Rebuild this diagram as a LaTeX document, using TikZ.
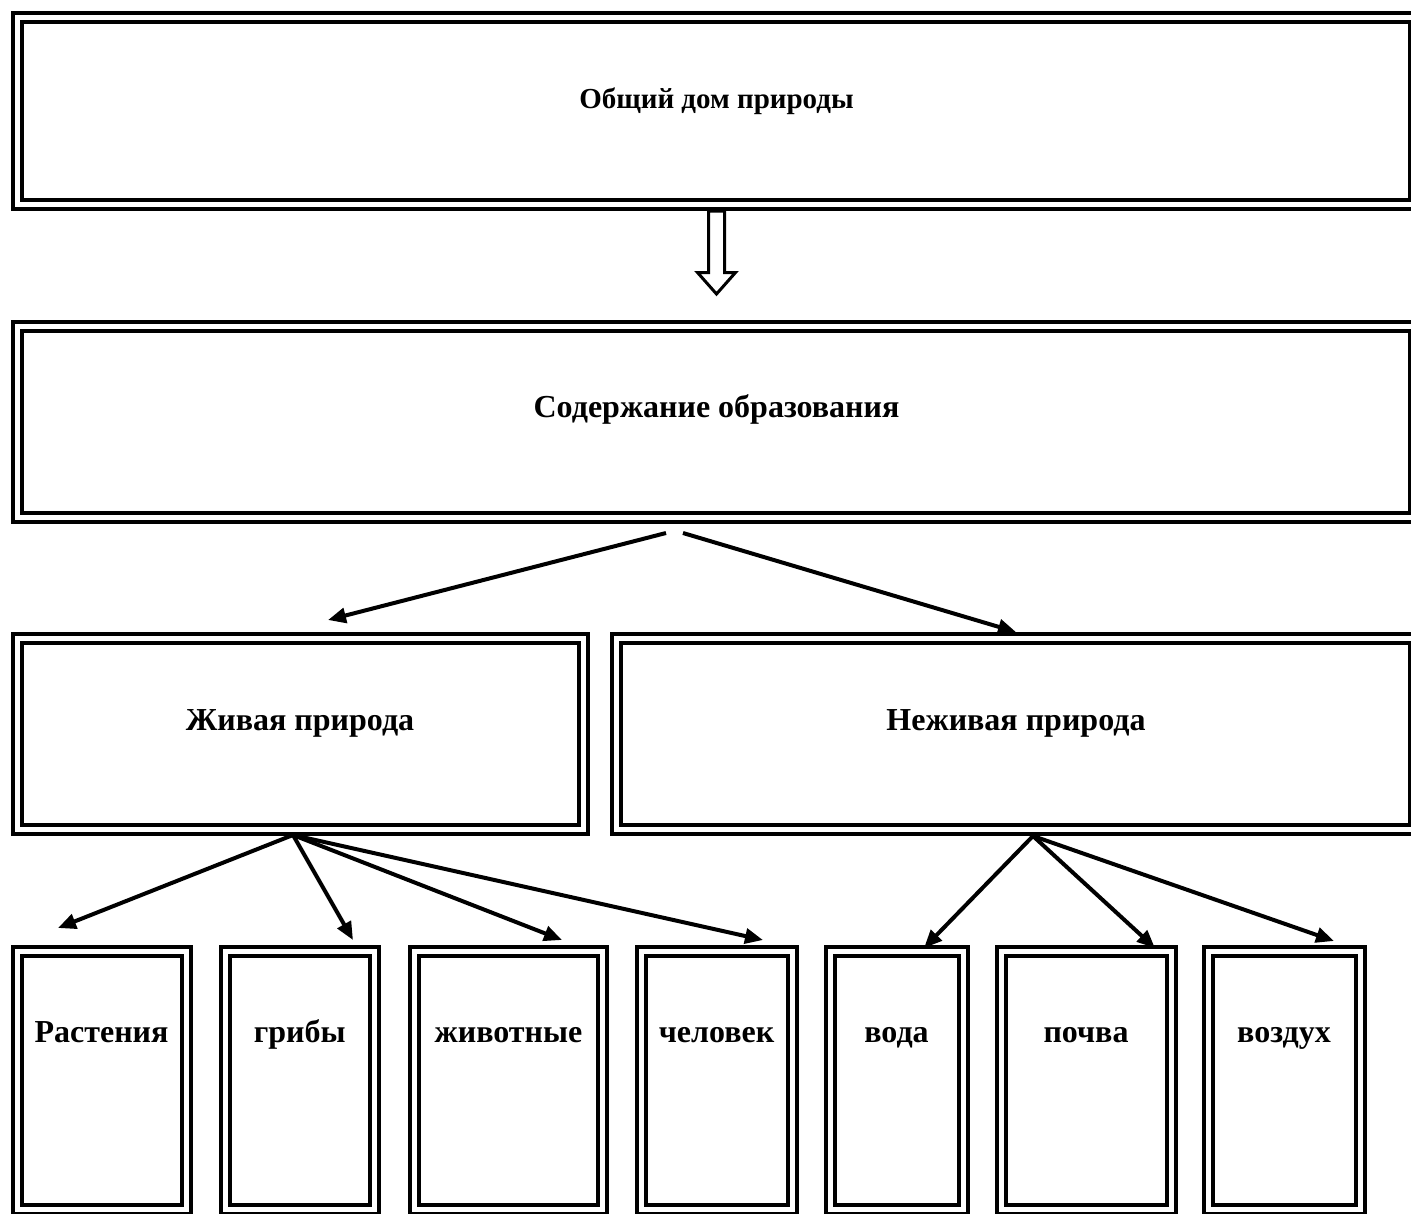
\documentclass[tikz,border=0pt]{standalone}
\usepackage{fontspec}
\setmainfont{Liberation Serif}
\usetikzlibrary{arrows.meta}

\tikzset{
  dblbox/.style={draw, double, line width=4pt, double distance=5pt, inner sep=0pt},
  lbl/.style={font=\bfseries\fontsize{32}{34}\selectfont, inner sep=0pt, anchor=base},
  arr/.style={line width=4pt, -{Triangle[length=18pt,width=15pt]}},
}

\begin{document}
\begin{tikzpicture}[x=1pt,y=-1pt]
	\useasboundingbox (0,0) rectangle (1411,1213);
	\clip (0,0) rectangle (1411,1213);
	\fill[white] (0,0) rectangle (1411,1213);

	% draw the two wide boxes
	\node[dblbox, minimum width=1397pt, minimum height=186.5pt] (dom) at (715.5,110.75) {};
	\node[lbl, font=\bfseries\fontsize{29}{31}\selectfont] (dom-t) at (716.5,108) {Общий дом природы};
	\node[dblbox, minimum width=1397pt, minimum height=191pt] (sod) at (715.5,421.5) {};
	\node[lbl] (sod-t) at (716.5,417) {Содержание образования};

	% draw hollow arrow between them
	\coordinate (dom-out) at (717,211);
	\draw[line width=3pt, fill=white] (dom-out) ++(-8.5,0) -- ++(0,61.5) -- ++(-11,0)
		-- ++(19,21.5) -- ++(19,-21.5) -- ++(-11,0) -- ++(0,-61.5) -- cycle;

	% draw the two middle boxes
	\node[dblbox, minimum width=566pt, minimum height=190.5pt] (zhiv) at (300,733.75) {};
	\node[lbl] (zhiv-t) at (300,730) {Живая природа};
	\node[dblbox, minimum width=798pt, minimum height=190.5pt] (nezhiv) at (1015,733.75) {};
	\node[lbl] (nezhiv-t) at (1016,730) {Неживая природа};

	% draw arrows from middle of second box
	\coordinate (sod-l) at (666,533);
	\coordinate (sod-r) at (683,533);
	\coordinate (zhiv-in) at (328,620);
	\coordinate (nezhiv-in) at (1016,632);
	\draw[arr] (sod-l) -- (zhiv-in);
	\draw[arr] (sod-r) -- (nezhiv-in);

	% draw bottom boxes
	\foreach \nm/\cx/\w/\txt in {rast/101.5/169/Растения, grib/299.75/149.5/грибы,
		zhivot/508.5/188/животные, chel/716.5/151/человек, voda/896.5/133/вода,
		pochva/1086/170/почва, vozd/1284/152/воздух}
	{
		\node[dblbox, minimum width=\w pt, minimum height=258pt] (\nm) at (\cx,1080) {};
		\node[lbl] (\nm-t) at (\cx,1042) {\txt};
	}

	% draw arrows to bottom boxes
	\coordinate (zhiv-out) at (293,835);
	\coordinate (nezhiv-out) at (1033,836);
	\coordinate (rast-in) at (58,928);
	\coordinate (grib-in) at (353,940);
	\coordinate (zhivot-in) at (562,940);
	\coordinate (chel-in) at (763,940);
	\coordinate (voda-in) at (924,948);
	\coordinate (pochva-in) at (1155,948);
	\coordinate (vozd-in) at (1334,941);
	\foreach \nm in {rast,grib,zhivot,chel}
		\draw[arr] (zhiv-out) -- (\nm-in);
	\foreach \nm in {voda,pochva,vozd}
		\draw[arr] (nezhiv-out) -- (\nm-in);
\end{tikzpicture}
\end{document}
